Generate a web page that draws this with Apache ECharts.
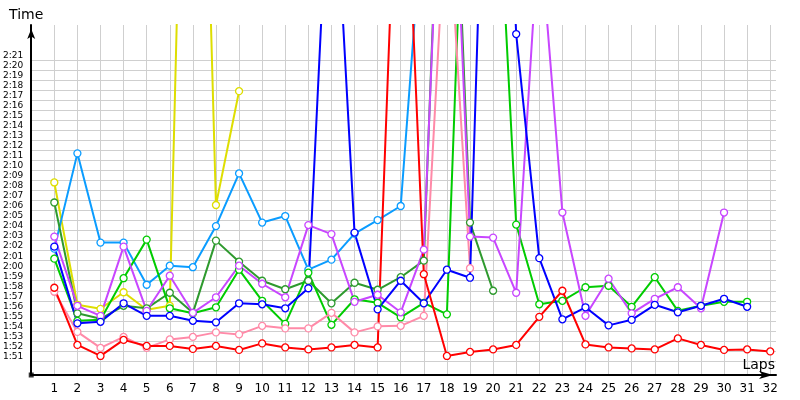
<!DOCTYPE html>
<html><head><meta charset="utf-8">
<script src="https://cdn.jsdelivr.net/npm/echarts@6/dist/echarts.min.js"></script>
<style>html,body{margin:0;padding:0;background:#fff}#c{width:800px;height:400px}</style>
</head><body><div id="c"></div>
<script>
// Lap numbers (x categories)
const laps = [1,2,3,4,5,6,7,8,9,10,11,12,13,14,15,16,17,18,19,20,21,22,23,24,25,26,27,28,29,30,31,32];
// Y tick labels (lap time m:ss)
const yTickLabels = ['1:51','1:52','1:53','1:54','1:55','1:56','1:57','1:58','1:59','2:00','2:01','2:02','2:03','2:04','2:05','2:06','2:07','2:08','2:09','2:10','2:11','2:12','2:13','2:14','2:15','2:16','2:17','2:18','2:19','2:20','2:21'];

// Lap times in seconds, one array per driver (index 0 = lap 1)
const yellowTimes   = [128.8,116.6,116.2,117.85,116.1,116.5,210,126.55,137.9];
const lightBlueTimes= [122.2,131.7,122.8,122.8,118.6,120.5,120.35,124.45,129.7,124.8,125.45,120.1,121.1,123.7,125.05,126.45,157.2];
const darkGreenTimes= [126.8,115.75,115.2,116.5,116.25,117.8,115.8,123.0,120.9,119.0,118.15,119.0,116.75,118.8,118.1,119.35,121.0,182,124.8,118.0];
const greenTimes    = [121.2,115.0,115.1,119.25,123.1,116.25,115.75,116.35,120.1,117.0,114.7,119.8,114.6,117.15,116.8,115.35,116.8,115.65,178,169,124.6,116.65,117.0,118.35,118.5,116.4,119.35,116.0,116.5,116.9,116.9];
const violetTimes   = [123.4,116.5,115.5,122.4,116.0,119.5,115.8,117.35,120.5,118.7,117.35,124.55,123.65,116.9,117.6,115.85,122.1,178,123.4,123.3,117.8,154.6,125.8,115.5,119.2,115.75,117.2,118.35,116.25,125.8];
const pinkTimes     = [117.9,113.9,112.3,113.4,112.3,113.15,113.4,113.85,113.65,114.5,114.25,114.25,115.8,113.85,114.45,114.5,115.5,158,120.25];
const blueTimes     = [122.4,114.75,114.9,116.75,115.5,115.5,115.0,114.85,116.75,116.65,116.25,118.25,166,123.8,116.15,119.0,116.75,120.1,119.3,194,143.6,121.25,115.15,116.35,114.55,115.1,116.6,115.85,116.5,117.2,116.4];
const redTimes      = [118.3,112.6,111.5,113.1,112.5,112.5,112.2,112.5,112.1,112.75,112.35,112.15,112.35,112.6,112.35,173.5,119.65,111.5,111.9,112.15,112.6,115.4,118.0,112.65,112.35,112.25,112.15,113.25,112.6,112.1,112.15,111.95];

const toSec = s => { const p = s.split(':'); return (+p[0])*60 + (+p[1]); };
const fmt = v => { const m = Math.floor(v/60); const s = Math.round(v - m*60); return m + ':' + (s<10?'0':'') + s; };
const yTickValues = yTickLabels.map(toSec);

const X_MIN = 0, X_MAX = 32.25, Y_MIN = 109.6, Y_MAX = 144.5;

const drivers = [
  {name:'Yellow', color:'#dede00', data:yellowTimes},
  {name:'LightBlue', color:'#0a9cff', data:lightBlueTimes},
  {name:'DarkGreen', color:'#2e9a2e', data:darkGreenTimes},
  {name:'Green', color:'#00cc00', data:greenTimes},
  {name:'Violet', color:'#c846ff', data:violetTimes},
  {name:'Pink', color:'#ff8aa8', data:pinkTimes},
  {name:'Blue', color:'#0000ff', data:blueTimes},
  {name:'Red', color:'#ff0000', data:redTimes}
];

const series = drivers.map(d => ({
  name:d.name, type:'line',
  data:d.data.map((v,i)=>[laps[i], v]),
  clip:true,
  symbol:'circle', symbolSize:7, showSymbol:true,
  itemStyle:{color:'#ffffff', borderColor:d.color, borderWidth:1.3},
  lineStyle:{color:d.color, width:2},
  emphasis:{disabled:true}
}));
// small origin marker
series.push({
  type:'scatter', data:[[X_MIN, Y_MIN]], symbol:'rect', symbolSize:5, clip:false,
  itemStyle:{color:'#000'}, silent:true, z:5
});

const chart = echarts.init(document.getElementById('c'), null, {renderer:'canvas'});
chart.setOption({
  animation:false,
  backgroundColor:'#ffffff',
  grid:{left:30, right:24, top:25, bottom:25, containLabel:false},
  xAxis:{
    type:'value', min:X_MIN, max:X_MAX,
    name:'Laps', nameLocation:'end', nameGap:0,
    nameTextStyle:{fontFamily:'DejaVu Sans', fontSize:14, color:'#000', align:'right', verticalAlign:'bottom', padding:[0,1,3,0]},
    axisLine:{show:true, onZero:false, symbol:['none','arrow'], symbolSize:[6,14], symbolOffset:[0,-3], lineStyle:{color:'#000', width:2}},
    axisTick:{show:false, customValues:laps},
    axisLabel:{customValues:laps, fontFamily:'DejaVu Sans', fontSize:12, color:'#000', margin:8},
    splitLine:{show:true, lineStyle:{color:'#cfcfcf', width:1}}
  },
  yAxis:{
    type:'value', min:Y_MIN, max:Y_MAX,
    name:'Time', nameLocation:'end', nameGap:3,
    nameTextStyle:{fontFamily:'DejaVu Sans', fontSize:14, color:'#000', align:'center', verticalAlign:'bottom', padding:[0,10,0,0]},
    axisLine:{show:true, onZero:false, symbol:['none','arrow'], symbolSize:[6,10], symbolOffset:[0,-4], lineStyle:{color:'#000', width:2}},
    axisTick:{show:false, customValues:yTickValues},
    axisLabel:{customValues:yTickValues, formatter:fmt, fontFamily:'DejaVu Sans', fontSize:9, color:'#000', margin:8, verticalAlign:'bottom'},
    splitLine:{show:true, lineStyle:{color:'#cfcfcf', width:1}}
  },
  series: series
});
</script>
</body></html>
